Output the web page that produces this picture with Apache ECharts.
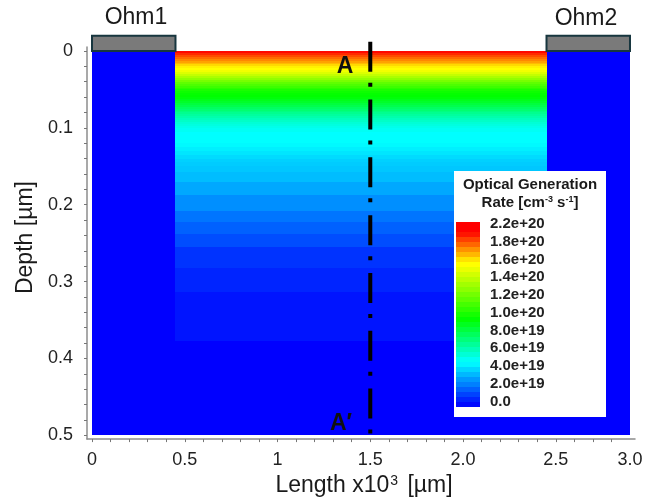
<!DOCTYPE html>
<html>
<head>
<meta charset="utf-8">
<style>html,body{margin:0;padding:0;background:#fff}#c{width:649px;height:502px;filter:blur(0.45px)}</style>
<script src="https://cdn.jsdelivr.net/npm/echarts@6/dist/echarts.min.js"></script>
</head>
<body>
<div id="c"></div>
<script>
// Device geometry [µm x10^3]
const deviceLength = 2.9;
const activeStart = 0.45;
const activeEnd = 2.45;
const deviceDepth = 0.5;
const contactTop = -0.02;
const sectionX = 1.5;
const sectionTop = -0.012;

// Optical generation by depth, in 1e20 cm-3 s-1
const rowEdges = [0,0.0025,0.005,0.0075,0.01,0.0125,0.015,0.0175,0.02,0.0225,0.025,0.0275,0.03,0.0325,0.035,0.0375,0.04,0.0425,0.045,0.0475,0.05,0.0525,0.055,0.0575,0.06,0.0625,0.065,0.0675,0.07,0.0725,0.075,0.0775,0.08,0.0825,0.085,0.0875,0.09,0.0925,0.095,0.0975,0.1,0.105,0.11,0.115,0.12,0.125,0.13,0.135,0.14,0.145,0.15,0.158,0.171,0.187,0.208,0.223,0.238,0.255,0.283,0.314,0.377];
const rowValues = [2.18,2.1,2.02,1.95,1.88,1.82,1.76,1.69,1.63,1.6,1.57,1.52,1.46,1.4,1.34,1.28,1.22,1.18,1.14,1.1,1.06,1.03,1.01,1.0,0.98,0.95,0.92,0.88,0.85,0.81,0.78,0.75,0.72,0.69,0.66,0.63,0.61,0.58,0.56,0.54,0.52,0.5,0.5,0.5,0.49,0.47,0.45,0.43,0.41,0.4,0.39,0.37,0.33,0.28,0.23,0.19,0.15,0.1,0.07,0.04];

// Colour bar, top to bottom
const barValues = [2.2,2.2,2.15,2.05,1.96,1.86,1.77,1.67,1.6,1.55,1.49,1.44,1.38,1.33,1.27,1.22,1.16,1.11,1.05,1.0,0.94,0.88,0.82,0.76,0.7,0.64,0.58,0.52,0.48,0.42,0.36,0.3,0.25,0.19,0.13,0.07,0.02];
const barLabels = ['2.2e+20','1.8e+20','1.6e+20','1.4e+20','1.2e+20','1.0e+20','8.0e+19','6.0e+19','4.0e+19','2.0e+19','0.0'];
const barLabelCells = [0.4,3.95,7.5,11.05,14.6,18.15,21.7,25.25,28.8,32.35,35.9];
const ramp = ['#0000ff','#0033ff','#0066ff','#0099ff','#00ccff','#00ffff','#00ffcc','#00ff99','#00ff66','#00ff33','#00ff00','#2aff00','#55ff00','#80ff00','#aaff00','#d5ff00','#ffff00','#ffd500','#ffaa00','#ff8000','#ff5500','#ff2a00','#ff0000'];

// Axis ticks and labels
const xLabelAt = [0,0.5,1,1.5,2,2.5,2.9];
const xLabels = ['0','0.5','1','1.5','2.0','2.5','3.0'];
const xTicks = [0,0.1,0.2,0.3,0.4,0.5,0.6,0.7,0.8,0.9,1,1.1,1.2,1.3,1.4,1.5,1.6,1.7,1.8,1.9,2,2.1,2.2,2.3,2.4,2.5,2.6,2.7,2.8];
const yLabelAt = [0,0.1,0.2,0.3,0.4,0.5];
const yLabels = ['0','0.1','0.2','0.3','0.4','0.5'];
const yTicks = [0,0.02,0.04,0.06,0.08,0.1,0.12,0.14,0.16,0.18,0.2,0.22,0.24,0.26,0.28,0.3,0.32,0.34,0.36,0.38,0.4,0.42,0.44,0.46,0.48,0.5];

const fieldData = [[0,deviceLength,0,deviceDepth,0]];
rowValues.forEach((v,i)=>fieldData.push([activeStart,activeEnd,rowEdges[i],rowEdges[i+1],v]));
const barData = barValues.map((v,i)=>[0,1,i,i+1,v]);
const contactData = [[0,activeStart,contactTop,0],[activeEnd,deviceLength,contactTop,0]];

const font = '"Liberation Sans", Arial, sans-serif';
function cell(params, api){
  const a = api.coord([api.value(0),api.value(2)]);
  const b = api.coord([api.value(1),api.value(3)]);
  const x0 = Math.round(a[0]), y0 = Math.round(a[1]), x1 = Math.round(b[0]), y1 = Math.round(b[1]);
  return {type:'rect',shape:{x:x0,y:y0,width:x1-x0,height:y1-y0},style:{fill:api.visual('color')}};
}
function contact(params, api){
  const a = api.coord([api.value(0),api.value(2)]);
  const b = api.coord([api.value(1),api.value(3)]);
  return {type:'rect',shape:{x:a[0],y:a[1],width:b[0]-a[0],height:b[1]-a[1]},style:{fill:'#7a7a7a',stroke:'#17363f',lineWidth:2}};
}
function txt(x,y,text,size,weight,extra){
  return {type:'text',x:x,y:y,z:20,style:Object.assign({text:text,font:(weight||'normal')+' '+size+'px '+font,fill:'#1a1a1a',align:'center',verticalAlign:'middle'},extra||{})};
}
const axisGray = {color:'#8c8c8c',width:1.5};
const chart = echarts.init(document.getElementById('c'),null,{renderer:'canvas'});
chart.setOption({
  animation:false,
  backgroundColor:'#ffffff',
  grid:[
    {left:87,top:47,width:548,height:393},
    {left:456,top:222,width:24,height:185}
  ],
  xAxis:[
    {type:'value',gridIndex:0,min:-0.027,max:2.927,position:'bottom',
     name:'{t|Length x10}{s|3}{t| [µm]}',nameLocation:'middle',nameGap:34,
     nameTextStyle:{fontFamily:font,fontSize:23,color:'#1a1a1a',padding:[0,0,0,6],
       rich:{t:{fontFamily:font,fontSize:23,color:'#1a1a1a'},
             s:{fontFamily:font,fontSize:14,color:'#1a1a1a',verticalAlign:'top',padding:[0,3,8,1]}}},
     splitLine:{show:false},
     axisLine:{show:true,onZero:false,lineStyle:axisGray},
     axisTick:{show:true,length:3,customValues:xTicks,lineStyle:{color:'#777',width:1}},
     axisLabel:{customValues:xLabelAt,margin:12,fontFamily:font,fontSize:18,color:'#222',
       formatter:(v)=>xLabels[xLabelAt.indexOf(v)]}},
    {type:'value',gridIndex:1,min:0,max:1,show:false}
  ],
  yAxis:[
    {type:'value',gridIndex:0,inverse:true,min:-0.0052,max:0.505,position:'left',
     name:'Depth [µm]',nameLocation:'middle',nameGap:50,
     nameTextStyle:{fontFamily:font,fontSize:23,color:'#1a1a1a',padding:[0,0,0,11]},
     splitLine:{show:false},
     axisLine:{show:true,onZero:false,lineStyle:axisGray},
     axisTick:{show:true,length:3,customValues:yTicks,lineStyle:{color:'#777',width:1}},
     axisLabel:{customValues:yLabelAt,margin:14,fontFamily:font,fontSize:18,color:'#222',
       formatter:(v)=>yLabels[yLabelAt.indexOf(v)]}},
    {type:'value',gridIndex:1,inverse:true,min:0,max:barValues.length,position:'right',z:10,
     splitLine:{show:false},axisLine:{show:false},axisTick:{show:false},
     axisLabel:{customValues:barLabelCells,margin:10,fontFamily:font,fontSize:15,fontWeight:'bold',color:'#222',
       formatter:(v)=>barLabels[barLabelCells.indexOf(v)]}}
  ],
  visualMap:[{show:false,type:'continuous',min:0,max:2.2,dimension:4,seriesIndex:[0,1],inRange:{color:ramp}}],
  series:[
    {name:'Optical generation',type:'custom',xAxisIndex:0,yAxisIndex:0,z:2,clip:false,renderItem:cell,data:fieldData,
     encode:{x:[0,1],y:[2,3]},silent:true},
    {name:'Colour bar',type:'custom',xAxisIndex:1,yAxisIndex:1,z:10,renderItem:cell,data:barData,
     encode:{x:[0,1],y:[2,3]},silent:true},
    {name:'Contacts',type:'custom',xAxisIndex:0,yAxisIndex:0,z:3,clip:false,renderItem:contact,data:contactData,
     encode:{x:[0,1],y:[2,3]},silent:true},
    {name:'A-A section',type:'line',xAxisIndex:0,yAxisIndex:0,z:4,clip:false,showSymbol:false,silent:true,
     data:[[sectionX,sectionTop],[sectionX,deviceDepth]],
     lineStyle:{color:'#000',width:4,type:[30,11,4,12.8],cap:'butt'}}
  ],
  graphic:{elements:[
    {type:'rect',z:5,shape:{x:454,y:171,width:152,height:246},style:{fill:'#ffffff'}},
    txt(530,185,'Optical Generation',15,'bold'),
    txt(530,203,'{a|Rate [cm}{s|-3}{a| s}{s|-1}{a|]}',15,'bold',{rich:{
      a:{font:'bold 15px '+font,fill:'#1a1a1a'},
      s:{font:'bold 9px '+font,fill:'#1a1a1a',verticalAlign:'top',padding:[0,0,4,0]}}}),
    txt(136,18,'Ohm1',23),
    txt(586,19,'Ohm2',23),
    txt(345,67,'A',23,'bold',{fill:'#111'}),
    txt(341,424,'A′',23,'bold',{fill:'#111'})
  ]}
});
</script>
</body>
</html>
